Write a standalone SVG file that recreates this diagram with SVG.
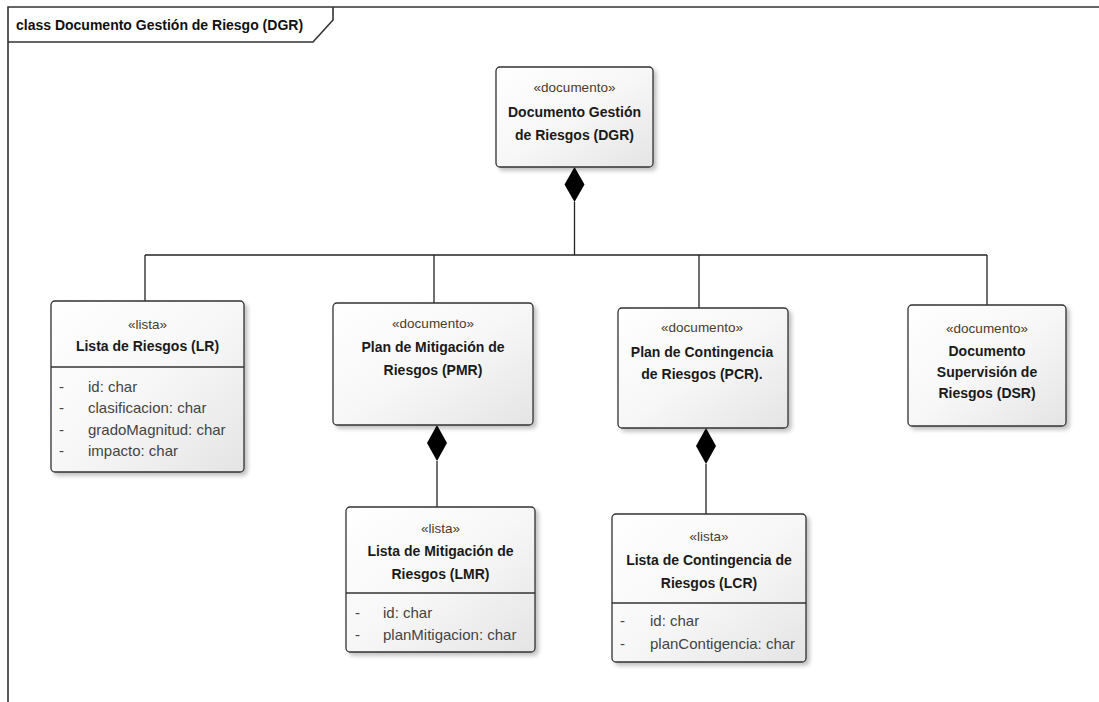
<svg xmlns="http://www.w3.org/2000/svg" width="1099" height="702" viewBox="0 0 1099 702">
  <defs>
    <linearGradient id="boxFill" x1="0" y1="0" x2="1" y2="1">
      <stop offset="0" stop-color="#ffffff"/>
      <stop offset="0.5" stop-color="#f7f7f7"/>
      <stop offset="1" stop-color="#e4e4e4"/>
    </linearGradient>
    <filter id="shadow" x="-10%" y="-10%" width="130%" height="130%">
      <feGaussianBlur in="SourceAlpha" stdDeviation="2"/>
      <feOffset dx="3" dy="3" result="b"/>
      <feComponentTransfer><feFuncA type="linear" slope="0.25"/></feComponentTransfer>
      <feMerge><feMergeNode/><feMergeNode in="SourceGraphic"/></feMerge>
    </filter>
  </defs>
  <style>
    .frame { fill: none; stroke: #333; stroke-width: 1.6; }
    .box { fill: url(#boxFill); stroke: #333; stroke-width: 1.3; filter: url(#shadow); }
    .div { stroke: #333; stroke-width: 1.3; }
    .conn { fill: none; stroke: #222; stroke-width: 1.3; }
    .diamond { fill: #000; }
    text { font-family: "Liberation Sans", Arial, sans-serif; }
    .title { font-size: 14px; font-weight: bold; fill: #111; }
    .st { font-size: 13.5px; fill: #4a3b2a; text-anchor: middle; }
    .nm { font-size: 14px; font-weight: bold; fill: #1a1a1a; text-anchor: middle; }
    .at { font-size: 15px; fill: #444; }
  </style>

  <!-- diagram frame and name tab -->
  <g id="frame">
    <path class="frame" d="M1099,7 H8 V702"/>
    <path class="frame" d="M8,42 H313 L333,20 V7"/>
    <text class="title" x="16" y="30">class Documento Gestión de Riesgo (DGR)</text>
  </g>

  <!-- connectors -->
  <g id="connectors">
    <path class="conn" d="M574.5,202 V255"/>
    <path class="conn" d="M145,255 H987"/>
    <path class="conn" d="M145,255 V301"/>
    <path class="conn" d="M434,255 V303"/>
    <path class="conn" d="M699,255 V308"/>
    <path class="conn" d="M987,255 V305"/>
    <path class="conn" d="M437,461 V507"/>
    <path class="conn" d="M706,464 V514"/>
    <path class="diamond" d="M574.5,167 L584.5,184.5 L574.5,202 L564.5,184.5 Z"/>
    <path class="diamond" d="M437,425 L447,443 L437,461 L427,443 Z"/>
    <path class="diamond" d="M706,428 L716,446 L706,464 L696,446 Z"/>
  </g>

  <!-- Documento Gestión de Riesgos -->
  <g id="DGR">
    <rect class="box" x="496" y="67" width="157" height="100" rx="4"/>
    <text class="st" x="574.5" y="92">«documento»</text>
    <text class="nm" x="574.5" y="117">Documento Gestión</text>
    <text class="nm" x="574.5" y="140">de Riesgos (DGR)</text>
  </g>

  <!-- Lista de Riesgos -->
  <g id="LR">
    <rect class="box" x="51" y="301" width="193" height="171" rx="4"/>
    <line class="div" x1="51" y1="367" x2="244" y2="367"/>
    <text class="st" x="147.5" y="329">«lista»</text>
    <text class="nm" x="147.5" y="351">Lista de Riesgos (LR)</text>
    <text class="at" x="59" y="392">-</text>
    <text class="at" x="88" y="392">id: char</text>
    <text class="at" x="59" y="413">-</text>
    <text class="at" x="88" y="413">clasificacion: char</text>
    <text class="at" x="59" y="435">-</text>
    <text class="at" x="88" y="435">gradoMagnitud: char</text>
    <text class="at" x="59" y="456">-</text>
    <text class="at" x="88" y="456">impacto: char</text>
  </g>

  <!-- Plan de Mitigación de Riesgos -->
  <g id="PMR">
    <rect class="box" x="333" y="303" width="200" height="122" rx="4"/>
    <text class="st" x="433" y="328">«documento»</text>
    <text class="nm" x="433" y="352">Plan de Mitigación de</text>
    <text class="nm" x="433" y="375">Riesgos (PMR)</text>
  </g>

  <!-- Plan de Contingencia de Riesgos -->
  <g id="PCR">
    <rect class="box" x="618" y="308" width="170" height="120" rx="4"/>
    <text class="st" x="702" y="332">«documento»</text>
    <text class="nm" x="702" y="357">Plan de Contingencia</text>
    <text class="nm" x="702" y="379">de Riesgos (PCR).</text>
  </g>

  <!-- Documento Supervisión de Riesgos -->
  <g id="DSR">
    <rect class="box" x="908" y="305" width="158" height="121" rx="4"/>
    <text class="st" x="987" y="333">«documento»</text>
    <text class="nm" x="987" y="356">Documento</text>
    <text class="nm" x="987" y="377">Supervisión de</text>
    <text class="nm" x="987" y="398">Riesgos (DSR)</text>
  </g>

  <!-- Lista de Mitigación de Riesgos -->
  <g id="LMR">
    <rect class="box" x="346" y="507" width="189" height="145" rx="4"/>
    <line class="div" x1="346" y1="593" x2="535" y2="593"/>
    <text class="st" x="440.5" y="533">«lista»</text>
    <text class="nm" x="440.5" y="556">Lista de Mitigación de</text>
    <text class="nm" x="440.5" y="579">Riesgos (LMR)</text>
    <text class="at" x="355" y="618">-</text>
    <text class="at" x="383" y="618">id: char</text>
    <text class="at" x="355" y="640">-</text>
    <text class="at" x="383" y="640">planMitigacion: char</text>
  </g>

  <!-- Lista de Contingencia de Riesgos -->
  <g id="LCR">
    <rect class="box" x="612" y="514" width="194" height="148" rx="4"/>
    <line class="div" x1="612" y1="603" x2="806" y2="603"/>
    <text class="st" x="709" y="541">«lista»</text>
    <text class="nm" x="709" y="565">Lista de Contingencia de</text>
    <text class="nm" x="709" y="588">Riesgos (LCR)</text>
    <text class="at" x="620" y="626">-</text>
    <text class="at" x="650" y="626">id: char</text>
    <text class="at" x="620" y="649">-</text>
    <text class="at" x="650" y="649">planContigencia: char</text>
  </g>
</svg>
